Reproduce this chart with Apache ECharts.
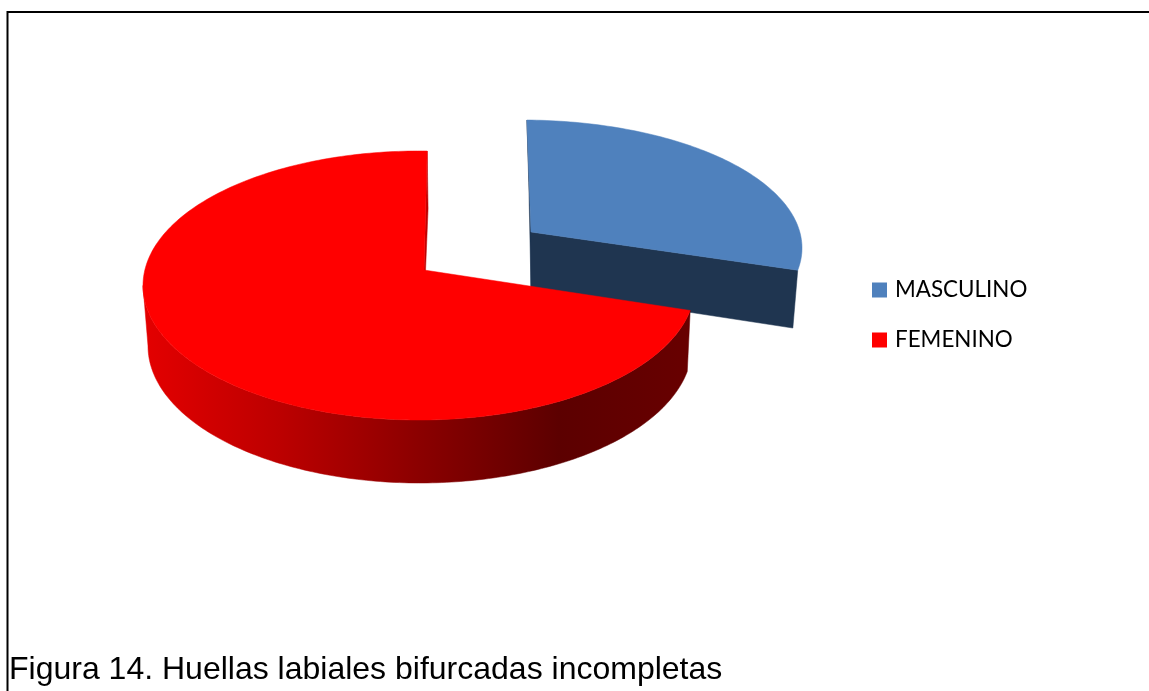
<!DOCTYPE html>
<html>
<head>
<meta charset="utf-8">
<title>Figura 14</title>
<script src="https://cdn.jsdelivr.net/npm/echarts@6/dist/echarts.min.js"></script>
<style>
html, body { margin: 0; padding: 0; background: #fff; }
#chart { width: 1149px; height: 691px; }
</style>
</head>
<body>
<div id="chart"></div>
<script>
const categories = ['MASCULINO', 'FEMENINO'];
const values = [27.5, 72.5];
const caption = 'Figura 14. Huellas labiales bifurcadas incompletas';

// shape of each slice on the page (tilted disc, with the first one pulled out)
const topRims = [
  { cx: 522, cy: 248, rx: 280, ry: 128 },
  { cx: 419, cy: 285.5, rx: 276, ry: 134.5 }
];
const bottomRims = [
  { cx: 524, cy: 306.5, rx: 273, ry: 124 },
  { cx: 420, cy: 346, rx: 272, ry: 137 }
];
const apexTop = [[531, 232], [424, 270]];
const apexBottom = [[531, 288], [423, 332]];
const startAngles = [1, 1.7];

const total = values.reduce((a, b) => a + b, 0);

function rimPoint(rim, deg) {
  let a = deg * Math.PI / 180;
  return [rim.cx + rim.rx * Math.sin(a), rim.cy - rim.ry * Math.cos(a)];
}

function rimArc(rim, from, to) {
  let pts = [];
  let steps = Math.ceil(Math.abs(to - from));
  for (let i = 0; i <= steps; i++) {
    pts.push(rimPoint(rim, from + (to - from) * i / steps));
  }
  return pts;
}

function polygon(points, fill) {
  return {
    type: 'polygon',
    shape: { points: points },
    style: { fill: fill, stroke: fill, lineWidth: 0.5 }
  };
}

function renderMasculino(params, api) {
  let span = api.value(0) / total * 360;
  let from = startAngles[0];
  let to = from + span;
  let top = topRims[0], bottom = bottomRims[0];
  return {
    type: 'group',
    children: [
      // inner wall, only a thin strip shows
      polygon([rimPoint(top, from), rimPoint(bottom, from), apexBottom[0], apexTop[0]], '#1F3550'),
      // front wall
      polygon([apexTop[0], rimPoint(top, to), rimPoint(bottom, to), apexBottom[0]], '#1F3550'),
      polygon([apexTop[0]].concat(rimArc(top, from, to)), '#4F81BD')
    ]
  };
}

function renderFemenino(params, api) {
  let span = api.value(0) / total * 360;
  let from = startAngles[1] + (values[0] / total * 360);
  let to = from + span;
  let top = topRims[1], bottom = bottomRims[1];
  let wallEnd = 270;
  let wall = rimArc(top, from, wallEnd).concat(rimArc(bottom, wallEnd, from));
  let wallColor = new echarts.graphic.LinearGradient(0, 0, 1, 0, [
    { offset: 0, color: '#e40000' },
    { offset: 0.25, color: '#bc0000' },
    { offset: 0.5, color: '#8c0000' },
    { offset: 0.76, color: '#5c0000' },
    { offset: 1, color: '#680000' }
  ]);
  return {
    type: 'group',
    children: [
      polygon([rimPoint(top, to), rimPoint(bottom, to), apexBottom[1], apexTop[1]], '#c00000'),
      polygon(wall, wallColor),
      polygon([apexTop[1]].concat(rimArc(top, from, to)), '#FF0000')
    ]
  };
}

let myChart = echarts.init(document.getElementById('chart'));
let option = {
  animation: false,
  color: ['#4F81BD', '#FF0000'],
  title: {
    text: caption,
    left: 9,
    top: 654,
    padding: 0,
    textStyle: {
      fontFamily: 'Liberation Sans',
      fontSize: 32,
      fontWeight: 'normal',
      color: '#000'
    }
  },
  legend: {
    orient: 'vertical',
    left: 872,
    top: 279,
    padding: 0,
    icon: 'rect',
    itemWidth: 15,
    itemHeight: 15,
    itemGap: 28,
    selectedMode: false,
    data: categories,
    textStyle: {
      fontFamily: 'Lato',
      fontSize: 22.4,
      color: '#000',
      padding: [0, 0, 0, 3]
    }
  },
  graphic: [
    {
      type: 'polyline',
      silent: true,
      shape: { points: [[7.5, 691], [7.5, 12], [1149, 12]] },
      style: { fill: 'none', stroke: '#000', lineWidth: 2 }
    }
  ],
  series: [
    {
      type: 'custom',
      name: categories[0],
      coordinateSystem: 'none',
      renderItem: renderMasculino,
      data: [[values[0]]]
    },
    {
      type: 'custom',
      name: categories[1],
      coordinateSystem: 'none',
      renderItem: renderFemenino,
      data: [[values[1]]]
    }
  ]
};
myChart.setOption(option);
</script>
</body>
</html>
